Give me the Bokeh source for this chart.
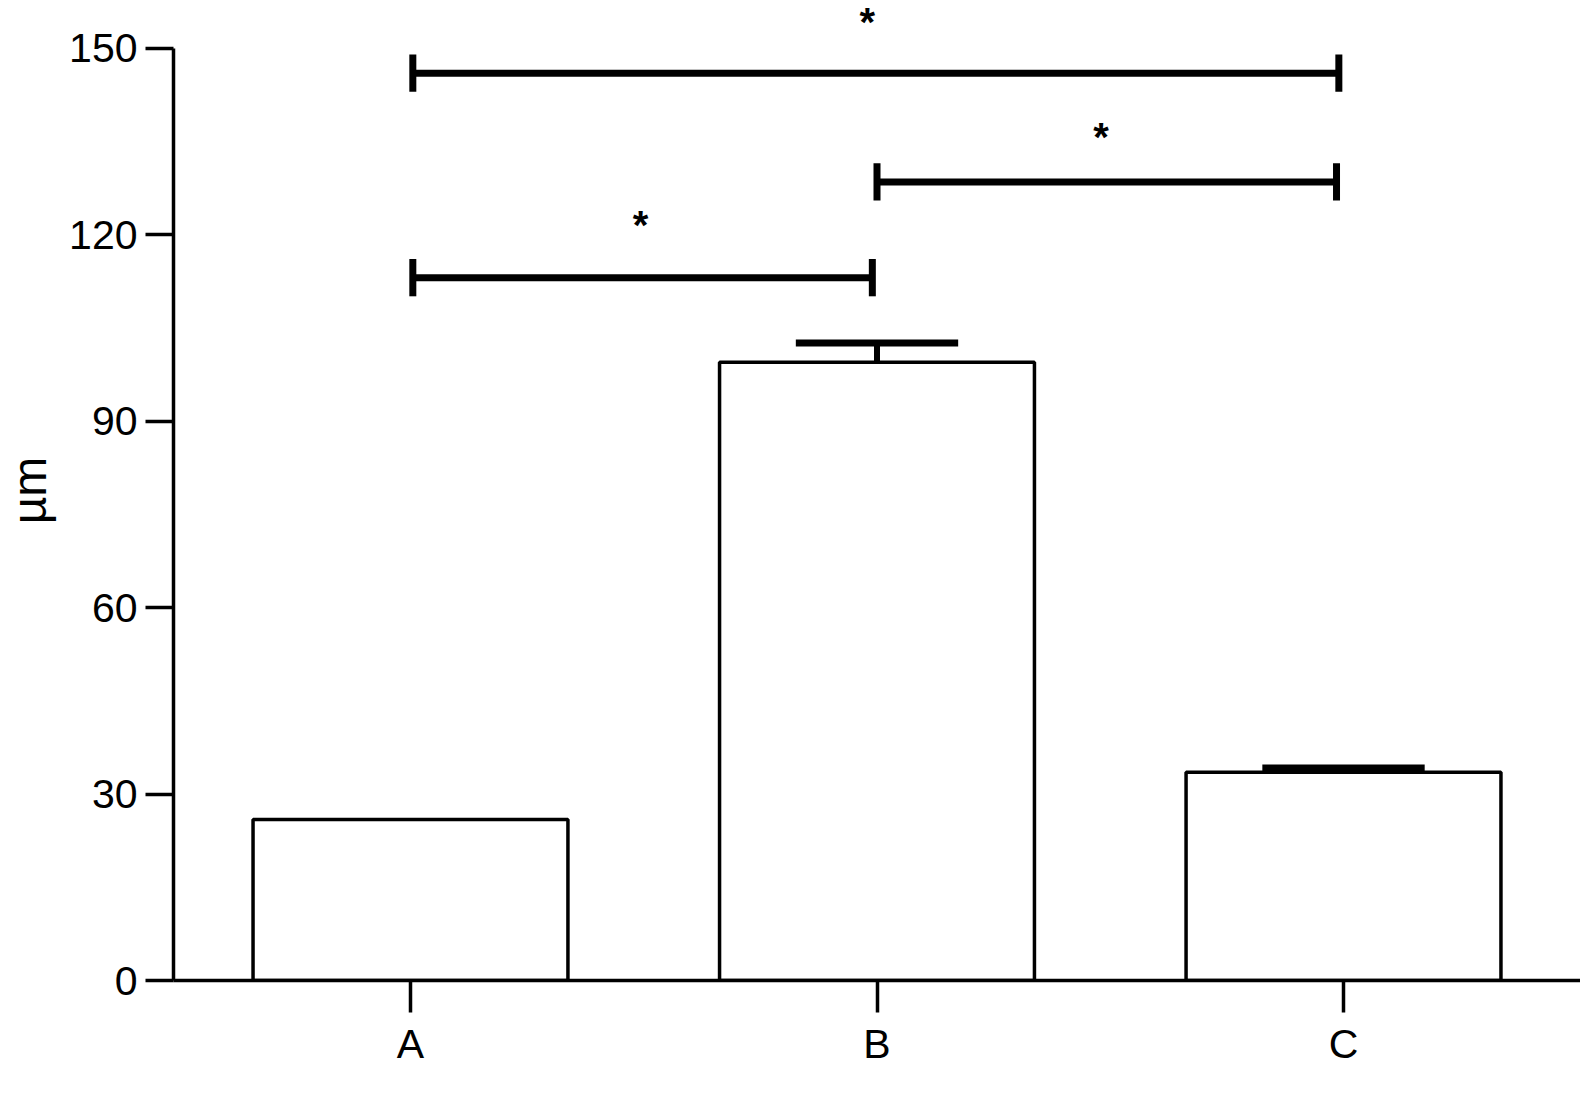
from bokeh.plotting import figure
from bokeh.models import FixedTicker, Range1d, ColumnDataSource
from bokeh.embed import file_html
from bokeh.resources import INLINE
from bokeh.core.properties import value

# ---- data ----
categories = ["A", "B", "C"]
means = [25.9, 99.5, 33.5]
errors = [0.0, 3.1, 0.7]
y_ticks = [0, 30, 60, 90, 120, 150]

# significance brackets (start category index, end category index, height)
bracket_start = [0.005, 1.0, 0.005]
bracket_end = [0.99, 1.985, 1.99]
bracket_height = [113.1, 128.5, 146.0]
star_x = [0.493, 1.48, 0.979]
star_y = [121.5, 135.7, 154.2]
star_text = ["*", "*", "*"]

FONT = "Liberation Sans"
LW = 3.5

xs = list(range(len(categories)))

p = figure(
    frame_width=1407, frame_height=980,
    min_border_left=165, min_border_right=0, min_border_top=0, min_border_bottom=100,
    x_range=Range1d(-0.508, 2.508), y_range=Range1d(0, 157.7),
    output_backend="svg", toolbar_location=None,
)
p.outline_line_color = None
p.grid.visible = False
p.background_fill_color = "white"
p.border_fill_color = "white"

# bars
p.vbar(x=xs, top=means, bottom=0, width=0.675, fill_color="white",
       line_color="black", line_width=LW)

# error bars (upper only)
err_src = ColumnDataSource(dict(
    x=[x for x, e in zip(xs, errors) if e > 0],
    y0=[m for m, e in zip(means, errors) if e > 0],
    y1=[m + e for m, e in zip(means, errors) if e > 0],
))
err_src.data["xl"] = [x - 0.174 for x in err_src.data["x"]]
err_src.data["xr"] = [x + 0.174 for x in err_src.data["x"]]
p.segment(x0="x", y0="y0", x1="x", y1="y1", source=err_src, line_color="black", line_width=6)
p.segment(x0="xl", y0="y1", x1="xr", y1="y1", source=err_src, line_color="black", line_width=7)

# significance brackets
p.segment(x0=bracket_start, y0=bracket_height, x1=bracket_end, y1=bracket_height,
          line_color="black", line_width=7)
p.segment(x0=bracket_start, y0=[h - 3.0 for h in bracket_height],
          x1=bracket_start, y1=[h + 3.0 for h in bracket_height],
          line_color="black", line_width=7)
p.segment(x0=bracket_end, y0=[h - 3.0 for h in bracket_height],
          x1=bracket_end, y1=[h + 3.0 for h in bracket_height],
          line_color="black", line_width=7)
p.text(x=star_x, y=star_y, text=star_text, text_font=value(FONT),
       text_font_size="40px", text_font_style="bold", text_align="center",
       text_baseline="alphabetic", text_color="black")

# axes
for ax in (p.xaxis[0], p.yaxis[0]):
    ax.axis_line_width = LW
    ax.axis_line_color = "black"
    ax.major_tick_line_width = LW
    ax.major_tick_line_color = "black"
    ax.major_tick_in = 0
    ax.minor_tick_line_color = None
    ax.major_label_text_font = FONT
    ax.major_label_text_font_size = "41px"
    ax.major_label_text_color = "black"
    ax.major_label_standoff = 8

p.xaxis.ticker = FixedTicker(ticks=xs)
p.xaxis.major_label_overrides = {i: c for i, c in zip(xs, categories)}
p.xaxis.major_tick_out = 32

p.yaxis.ticker = FixedTicker(ticks=y_ticks)
p.yaxis.bounds = (0, 150)
p.yaxis.major_tick_out = 28
p.yaxis.axis_label = "µm"
p.yaxis.axis_label_text_font = FONT
p.yaxis.axis_label_text_font_size = "48px"
p.yaxis.axis_label_text_font_style = "normal"
p.yaxis.axis_label_text_color = "black"
p.yaxis.axis_label_standoff = 10

open("out.html", "w").write(file_html(p, INLINE))
